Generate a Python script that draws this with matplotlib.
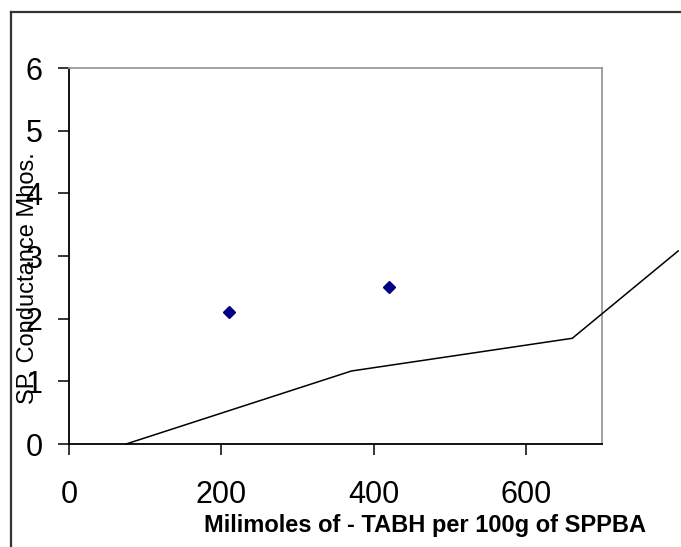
import matplotlib
matplotlib.use("Agg")
import matplotlib.pyplot as plt
from matplotlib.lines import Line2D

# Data
scatter_x = [210, 420]
scatter_y = [2.1, 2.5]
line_x = [75, 371, 661, 800]
line_y = [0.0, 1.165, 1.687, 3.08]
x_ticks = [0, 200, 400, 600]
y_ticks = [0, 1, 2, 3, 4, 5, 6]
x_label = "Milimoles of - TABH per 100g of SPPBA"
y_label = "SP. Conductance Mhos."

plt.rcParams['font.family'] = ['Liberation Sans', 'DejaVu Sans']

fig = plt.figure(figsize=(6.81, 5.47), dpi=100)
ax = fig.add_axes([69/681, 103/547, 533/681, 376/547])

ax.plot(line_x, line_y, color='black', lw=1.1, clip_on=False, zorder=3)
ax.plot(scatter_x, scatter_y, linestyle='none', marker='D', ms=6,
        color='#000080', zorder=4)

ax.set_xlim(0, 700)
ax.set_ylim(0, 6)
ax.set_xticks(x_ticks)
ax.set_yticks(y_ticks)
ax.tick_params(axis='both', direction='out', length=8, width=1.1,
               labelsize=22, colors='black')
ax.tick_params(axis='x', pad=18)
ax.tick_params(axis='y', pad=11)

for s in ['left', 'bottom']:
    ax.spines[s].set_color('black')
    ax.spines[s].set_linewidth(1.3)
for s in ['top', 'right']:
    ax.spines[s].set_color('#9a9a9a')
    ax.spines[s].set_linewidth(1.3)

fig.text(425.5/681, (547-532)/547, x_label, ha='center', va='baseline',
         fontsize=17, fontweight='bold')
fig.text(28/681, (547-278)/547, y_label, ha='center', va='center',
         rotation=90, fontsize=17)

# figure frame (left and top edges)
fig.add_artist(Line2D([11/681, 11/681], [0, (547-12)/547],
                      transform=fig.transFigure, color='#333333', lw=1.6))
fig.add_artist(Line2D([11/681, 1], [(547-12)/547, (547-12)/547],
                      transform=fig.transFigure, color='#333333', lw=1.6))

fig.savefig('out.png', dpi=100)
